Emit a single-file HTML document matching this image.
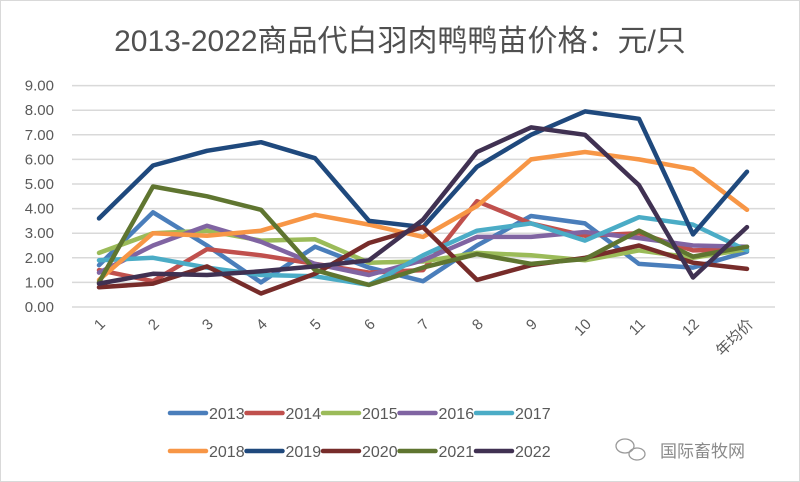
<!DOCTYPE html>
<html><head><meta charset="utf-8"><style>
html,body{margin:0;padding:0;background:#fff;}
svg{display:block;font-family:"Liberation Sans","Noto Sans CJK SC",sans-serif;}
</style></head><body>
<svg width="800" height="482" viewBox="0 0 800 482" xmlns="http://www.w3.org/2000/svg">
<rect x="0.5" y="0.5" width="799" height="481" fill="#fff" stroke="#d9d9d9"/>
<text x="400" y="51" text-anchor="middle" font-size="30" fill="#505050">2013-2022商品代白羽肉鸭鸭苗价格：元/只</text>
<g stroke="#d9d9d9" stroke-width="1.5">
<line x1="72" x2="775" y1="307" y2="307"/><line x1="72" x2="775" y1="282.4" y2="282.4"/>
<line x1="72" x2="775" y1="257.8" y2="257.8"/><line x1="72" x2="775" y1="233.2" y2="233.2"/>
<line x1="72" x2="775" y1="208.6" y2="208.6"/><line x1="72" x2="775" y1="184" y2="184"/>
<line x1="72" x2="775" y1="159.4" y2="159.4"/><line x1="72" x2="775" y1="134.8" y2="134.8"/>
<line x1="72" x2="775" y1="110.2" y2="110.2"/><line x1="72" x2="775" y1="85.6" y2="85.6"/>
</g>
<g font-size="15" fill="#595959" text-anchor="end">
<text x="54" y="312">0.00</text><text x="54" y="287.4">1.00</text><text x="54" y="262.8">2.00</text>
<text x="54" y="238.2">3.00</text><text x="54" y="213.6">4.00</text><text x="54" y="189">5.00</text>
<text x="54" y="164.4">6.00</text><text x="54" y="139.8">7.00</text><text x="54" y="115.2">8.00</text>
<text x="54" y="90.6">9.00</text>
</g>
<g font-size="15" fill="#595959" text-anchor="end">
<text transform="translate(106,325) rotate(-45)">1</text>
<text transform="translate(160,325) rotate(-45)">2</text>
<text transform="translate(214,325) rotate(-45)">3</text>
<text transform="translate(268,325) rotate(-45)">4</text>
<text transform="translate(322,325) rotate(-45)">5</text>
<text transform="translate(376,325) rotate(-45)">6</text>
<text transform="translate(430,325) rotate(-45)">7</text>
<text transform="translate(484,325) rotate(-45)">8</text>
<text transform="translate(538,325) rotate(-45)">9</text>
<text transform="translate(592,325) rotate(-45)">10</text>
<text transform="translate(646,325) rotate(-45)">11</text>
<text transform="translate(700,325) rotate(-45)">12</text>
<text transform="translate(754,325) rotate(-45)">年均价</text>
</g>
<g fill="none" stroke-width="4.5" stroke-linejoin="round" stroke-linecap="round" id="lines"></g>
<g id="legend" font-size="16" fill="#595959"></g>
<text x="660" y="457" font-size="17" fill="#8a8a8a">国际畜牧网</text>
<g fill="none" stroke="#9a9a9a" stroke-width="1.3"><ellipse cx="625" cy="446" rx="9" ry="7"/><ellipse cx="637" cy="454" rx="8" ry="6"/></g>
<script>
var data=[
["#4a7ebb",[1.7,3.85,2.5,1.0,2.45,1.6,1.05,2.5,3.7,3.4,1.75,1.6,2.25]],
["#c0504d",[1.5,1.05,2.35,2.1,1.75,1.4,1.5,4.3,3.4,2.9,3.0,2.3,2.35]],
["#9bbb59",[2.2,3.0,3.1,2.7,2.75,1.8,1.85,2.2,2.1,1.9,2.3,2.0,2.35]],
["#8064a2",[1.4,2.5,3.3,2.65,1.75,1.3,1.9,2.85,2.85,3.05,2.8,2.5,2.45]],
["#4bacc6",[1.9,2.0,1.6,1.3,1.25,0.9,2.1,3.1,3.4,2.7,3.65,3.35,2.3]],
["#f79646",[1.1,3.0,2.9,3.1,3.75,3.35,2.85,4.1,6.0,6.3,6.0,5.6,3.95]],
["#1f497d",[3.6,5.75,6.35,6.7,6.05,3.5,3.25,5.7,7.0,7.95,7.65,2.95,5.5]],
["#772c2a",[0.8,0.95,1.65,0.55,1.35,2.6,3.25,1.1,1.7,2.0,2.5,1.8,1.55]],
["#5f7530",[1.0,4.9,4.5,3.95,1.5,0.9,1.6,2.15,1.75,1.95,3.1,2.05,2.45]],
["#403152",[0.95,1.35,1.3,1.45,1.65,1.9,3.55,6.3,7.3,7.0,4.95,1.2,3.25]]];
var ns="http://www.w3.org/2000/svg",g=document.getElementById("lines"),lg=document.getElementById("legend");
data.forEach(function(d,k){
 var p=document.createElementNS(ns,"polyline");
 p.setAttribute("points",d[1].map(function(v,i){return (99+i*54)+","+(307-v*24.6).toFixed(1)}).join(" "));
 p.setAttribute("stroke",d[0]);g.appendChild(p);
 var col=k%5,row=Math.floor(k/5),x=170+col*76.5,y=row?451:413;
 var l=document.createElementNS(ns,"line");
 l.setAttribute("x1",x);l.setAttribute("x2",x+36);l.setAttribute("y1",y);l.setAttribute("y2",y);
 l.setAttribute("stroke",d[0]);l.setAttribute("stroke-width","4.5");l.setAttribute("stroke-linecap","round");lg.appendChild(l);
 var t=document.createElementNS(ns,"text");t.setAttribute("x",x+39);t.setAttribute("y",y+6);t.textContent=2013+k;lg.appendChild(t);
});
</script>
</svg>
</body></html>
